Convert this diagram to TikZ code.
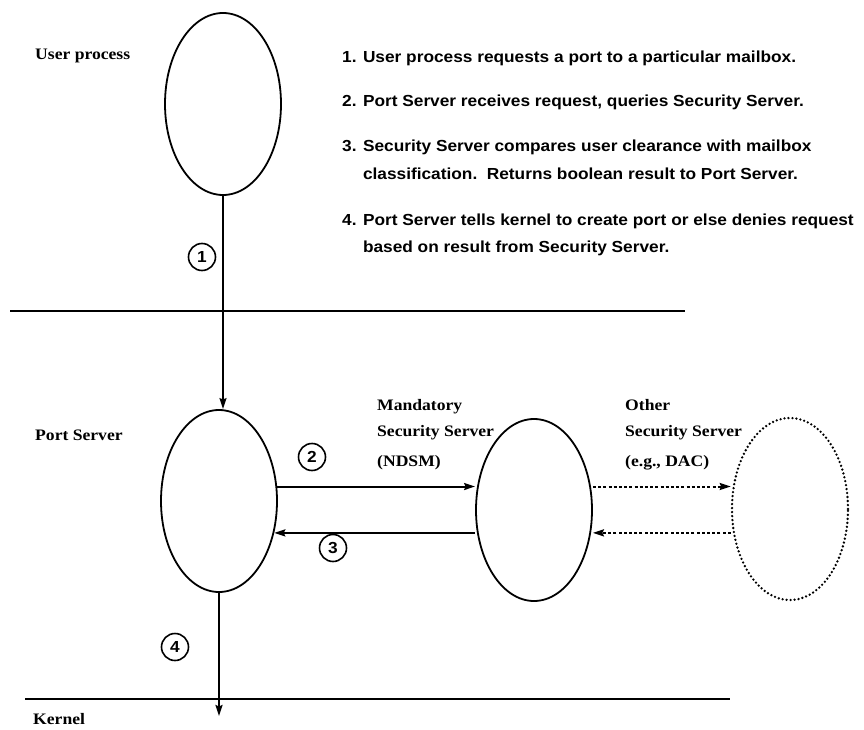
\documentclass[tikz,border=0pt]{standalone}
\usepackage{fontspec}
\setmainfont{Liberation Serif}[FakeStretch=1.1]
\newfontfamily\helv{Liberation Sans}[FakeStretch=1.08]
\usetikzlibrary{arrows.meta,shapes.geometric}
\begin{document}
\begin{tikzpicture}[x=1pt,y=-1pt,
  oval/.style={draw, ellipse, minimum width=116pt, minimum height=182pt, inner sep=0pt, line width=1.8pt},
  dotoval/.style={oval, line cap=round, dash pattern=on 0pt off 4pt, line width=2.6pt},
  lbl/.style={anchor=base west, inner sep=0pt, font=\fontsize{16}{19}\selectfont\bfseries},
  itm/.style={anchor=base west, inner sep=0pt, font=\helv\fontsize{16}{19}\selectfont\bfseries},
  num/.style={draw, circle, minimum size=27pt, inner sep=0pt, line width=1.6pt, font=\helv\fontsize{16}{16}\selectfont\bfseries},
  conn/.style={line width=2pt, -{Stealth[length=11pt,width=7pt,inset=1.5pt]}},
  dconn/.style={conn, dash pattern=on 3pt off 2.2pt},
  rule/.style={line width=1.8pt}]
\useasboundingbox (0,0) rectangle (864,730);
% labels
\node[lbl] (tuser) at (35,60) {User process};
\node[lbl] (tport) at (35,440) {Port Server};
\node[lbl] (tmand1) at (377,410) {Mandatory};
\node[lbl] (tmand2) at (377,436) {Security Server};
\node[lbl] (tmand3) at (377,466) {(NDSM)};
\node[lbl] (toth1) at (625,410) {Other};
\node[lbl] (toth2) at (625,436) {Security Server};
\node[lbl] (toth3) at (625,466) {(e.g., DAC)};
\node[lbl] (tkern) at (33,724) {Kernel};
% list
\node[itm] (l1) at (342,63) {1. User process requests a port to a particular mailbox.};
\node[itm] (l2) at (342,107) {2. Port Server receives request, queries Security Server.};
\node[itm] (l3) at (342,152) {3. Security Server compares user clearance with mailbox};
\node[itm] (l3b) at (342,180) {\phantom{3. }classification.\ \ Returns boolean result to Port Server.};
\node[itm] (l4) at (342,225) {4. Port Server tells kernel to create port or else denies request};
\node[itm] (l4b) at (342,252) {\phantom{4. }based on result from Security Server.};
% ellipses
\node[oval] (user) at (223,104) {};
\node[oval] (port) at (219,501) {};
\node[oval] (ndsm) at (534,510) {};
\node[dotoval] (other) at (790,509) {};
% rules
\coordinate (r1a) at (10,311);
\coordinate (r1b) at (685,311);
\coordinate (r2a) at (25,699);
\coordinate (r2b) at (730,699);
\draw[rule] (r1a) -- (r1b);
\draw[rule] (r2a) -- (r2b);
% connectors
\coordinate (kend) at (219,716);
\draw[conn] (user.south) -- (user.south |- port.north);
\draw[conn] (port.south) -- (kend);
\draw[conn] (port.14) -- (port.14 -| ndsm.west);
\draw[conn] (ndsm.west |- port.-30) -- (port.-30);
\draw[dconn] (ndsm.east |- port.14) -- (other.west |- port.14);
\draw[dconn] (other.west |- port.-30) -- (ndsm.east |- port.-30);
% step numbers
\node[num] (n1) at (202,257) {1};
\node[num] (n2) at (312,457) {2};
\node[num] (n3) at (333,548) {3};
\node[num] (n4) at (175,647) {4};
\end{tikzpicture}
\end{document}
